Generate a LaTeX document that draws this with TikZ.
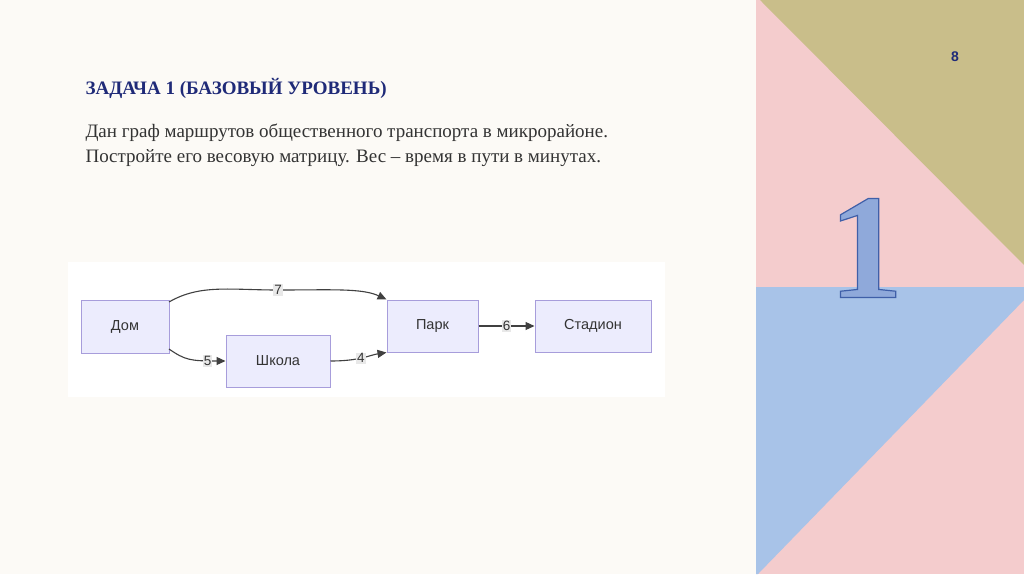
\documentclass[tikz,border=0pt]{standalone}
\usepackage{fontspec}
\setmainfont{Liberation Serif}
\newfontfamily\diagfont{Liberation Sans}
\usetikzlibrary{arrows.meta}
\definecolor{bgc}{HTML}{FCFAF6}
\definecolor{pinkc}{HTML}{F4CCCD}
\definecolor{olivec}{HTML}{C9BE8A}
\definecolor{bluec}{HTML}{A8C3E8}
\definecolor{navy}{HTML}{1F2A78}
\definecolor{onefill}{HTML}{8FA9DA}
\definecolor{oneline}{HTML}{3F5FA8}
\definecolor{boxfill}{HTML}{ECECFD}
\definecolor{boxline}{HTML}{A79DDB}
\definecolor{lblbg}{HTML}{E8E8E8}
\tikzset{
  gnode/.style={draw=boxline,fill=boxfill,line width=1pt,minimum width=#1,minimum height=53pt,font=\diagfont\fontsize{14.5}{17}\selectfont,text=black!80,inner sep=0pt},
  gedge/.style={draw=black!75,line width=1.1pt,-{Triangle[length=9pt,width=8pt]}},
  elbl/.style={fill=lblbg,font=\diagfont\fontsize{13.5}{15}\selectfont,text=black!80,inner sep=1pt}
}
\begin{document}
\begin{tikzpicture}[x=1pt,y=-1pt]
\useasboundingbox (0,0) rectangle (1024,574);
\fill[bgc] (0,0) rectangle (1024,574);
\fill[pinkc] (756,0) rectangle (1024,574);
\fill[olivec] (760,0) -- (1024,0) -- (1024,265) -- cycle;
\fill[bluec] (756,287) -- (1024,287) -- (1024,300) -- (758,574) -- (756,574) -- cycle;
\node[font=\diagfont\bfseries\fontsize{14}{16}\selectfont,text=navy] (pg) at (955,57) {8};
\node[font=\bfseries\fontsize{150}{150}\selectfont,text=onefill] (one) at (866,248) {\pgfsetstrokecolor{oneline}\pgfsetlinewidth{1.2pt}\special{pdf:literal 2 Tr}1\special{pdf:literal 0 Tr}};
\node[anchor=west,font=\bfseries\fontsize{19}{22}\selectfont,text=navy] (title) at (82,88) {ЗАДАЧА 1 (БАЗОВЫЙ УРОВЕНЬ)};
\node[anchor=west,font=\fontsize{19}{25}\selectfont,text=black!80,align=left] (body) at (82,145) {Дан граф маршрутов общественного транспорта в микрорайоне.\\Постройте его весовую матрицу. Вес -- время в пути в минутах.};
\fill[white] (68,262) rectangle (665,397);
\node[gnode=88pt] (dom) at (125,327) {Дом};
\node[gnode=104pt,minimum height=52pt] (sch) at (278,361) {Школа};
\node[gnode=91pt,minimum height=52pt] (park) at (432.5,326) {Парк};
\node[gnode=116pt,minimum height=52pt] (stad) at (593,326) {Стадион};
\draw[gedge] (169,302) .. controls (200,284) and (230,290) .. (278,290) node[elbl]{7} .. controls (330,290) and (362,288) .. (park.north west);
\draw[gedge] (169,349) .. controls (185,360) and (190,361) .. node[elbl,pos=0.8]{5} (sch.west);
\draw[gedge] (sch.east) .. controls (360,361) and (370,355) .. node[elbl,pos=0.45]{4} (park.south west);
\draw[gedge] (park) -- node[elbl]{6} (stad);
\end{tikzpicture}
\end{document}
